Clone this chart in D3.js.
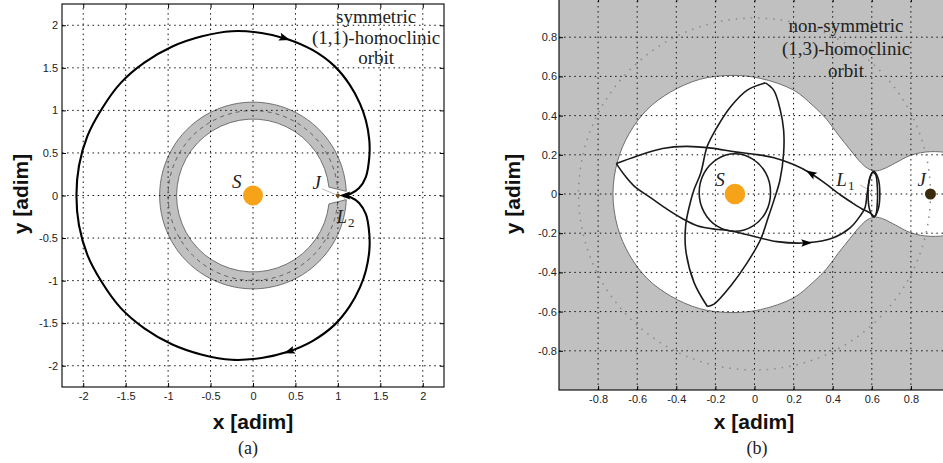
<!DOCTYPE html>
<html lang="en">
<head>
<meta charset="utf-8">
<title>Homoclinic orbits</title>
<script src="https://d3js.org/d3.v7.min.js"></script>
<style>
  body { margin: 0; background: #fff; }
  svg { display: block; font-family: 'Liberation Sans', Arial, sans-serif; }
  .tick text { font-size: 11px; fill: #222; font-family: 'Liberation Sans', Arial, sans-serif; }
  .axis-title { font-size: 21px; font-weight: bold; fill: #111; }
  .serif { font-family: 'Liberation Serif', 'Times New Roman', serif; fill: #222; }
  .grid line { stroke: #111; stroke-width: 1; stroke-dasharray: 1.5,3.6; }
</style>
</head>
<body>
<svg id="fig" width="943" height="463"></svg>
<script>
// ---------- panel (a): symmetric (1,1)-homoclinic orbit ----------
var ticksA = [-2, -1.5, -1, -0.5, 0, 0.5, 1, 1.5, 2];
// inner edge, dashed middle, outer edge of the grey ring
var ringA = [0.9, 1.0, 1.1];
// orbit, from L2 down, round the bottom, the left, the top and back to L2
var orbitA = [
  [1.07, 0], [1.15, -0.02], [1.25, -0.087], [1.33, -0.22], [1.37, -0.45], [1.37, -0.65],
  [1.33, -0.88], [1.26, -1.08], [1.14, -1.3], [0.96, -1.52], [0.7, -1.71], [0.4, -1.84],
  [0.1, -1.91], [-0.25, -1.93], [-0.6, -1.87], [-0.95, -1.75], [-1.28, -1.56], [-1.56, -1.32],
  [-1.78, -1.02], [-1.95, -0.7], [-2.05, -0.35], [-2.08, 0],
  [-2.05, 0.35], [-1.95, 0.7], [-1.78, 1.02], [-1.56, 1.32], [-1.28, 1.56], [-0.95, 1.75],
  [-0.6, 1.87], [-0.25, 1.93], [0.1, 1.91], [0.4, 1.84], [0.7, 1.71], [0.96, 1.52],
  [1.14, 1.3], [1.26, 1.08], [1.33, 0.88], [1.37, 0.65], [1.37, 0.45], [1.33, 0.22],
  [1.25, 0.087], [1.15, 0.02], [1.07, 0]
];
// arrow heads: x, y, direction dx, dy
var arrowsA = [[0.38, 1.845, 1, -0.33], [0.42, -1.835, -1, -0.33], [1.075, 0, -1, 0]];
var sunA = [0, 0];
var jupA = [1, 0];
var titleA = ["symmetric", "(1,1)-homoclinic", "orbit"];

// ---------- panel (b): non-symmetric (1,3)-homoclinic orbit ----------
var ticksB = [-0.8, -0.6, -0.4, -0.2, 0, 0.2, 0.4, 0.6, 0.8];
var jupOrbitB = 0.9;
// boundary of the allowed (white) region
var hillB = [
  [-0.724, 0], [-0.70, 0.17], [-0.64, 0.31], [-0.55, 0.43], [-0.43, 0.52], [-0.28, 0.585],
  [-0.12, 0.605], [0.03, 0.59], [0.2, 0.53], [0.3, 0.45], [0.37, 0.38], [0.43, 0.3],
  [0.49, 0.225], [0.54, 0.165], [0.58, 0.13], [0.62, 0.118], [0.66, 0.128], [0.72, 0.158],
  [0.8, 0.198], [0.9, 0.216], [1.0, 0.205], [1.08, 0.15], [1.12, 0.07], [1.13, 0],
  [1.12, -0.07], [1.08, -0.15], [1.0, -0.205], [0.9, -0.216], [0.8, -0.198], [0.72, -0.158],
  [0.66, -0.128], [0.62, -0.118], [0.58, -0.13], [0.54, -0.165], [0.49, -0.225], [0.43, -0.3],
  [0.37, -0.38], [0.3, -0.45], [0.2, -0.53], [0.03, -0.59], [-0.12, -0.605], [-0.28, -0.585],
  [-0.43, -0.52], [-0.55, -0.43], [-0.64, -0.31], [-0.70, -0.17]
];
// leaving L1, over the Sun, out to the left tip
var outboundB = [
  [0.612, -0.117], [0.596, -0.1], [0.575, -0.088], [0.548, -0.075], [0.5, -0.045],
  [0.44, -0.005], [0.36, 0.055], [0.285, 0.107], [0.2, 0.15], [0.1, 0.185], [0.0, 0.203],
  [-0.1, 0.215], [-0.22, 0.234], [-0.35, 0.243], [-0.47, 0.232], [-0.6, 0.194], [-0.707, 0.155]
];
// from the left tip, under the Sun, back into L1
var inboundB = [
  [-0.707, 0.155], [-0.66, 0.09], [-0.614, 0.039], [-0.53, -0.02], [-0.444, -0.08],
  [-0.37, -0.125], [-0.293, -0.162], [-0.2, -0.18], [-0.139, -0.185], [-0.04, -0.207],
  [0.115, -0.243], [0.268, -0.249], [0.404, -0.223], [0.489, -0.173], [0.539, -0.114],
  [0.565, -0.07], [0.576, 0.0], [0.588, 0.07], [0.603, 0.11], [0.619, 0.1], [0.628, 0.04],
  [0.628, -0.05], [0.62, -0.108], [0.608, -0.118]
];
// long lens from the top tip to the bottom tip
var lensLeftB = [
  [0.056, 0.567], [-0.037, 0.53], [-0.122, 0.445], [-0.19, 0.343], [-0.242, 0.242],
  [-0.275, 0.107], [-0.31, 0.02], [-0.335, -0.07], [-0.352, -0.16], [-0.352, -0.283],
  [-0.309, -0.452], [-0.241, -0.574]
];
var lensRightB = [
  [0.056, 0.567], [0.098, 0.53], [0.132, 0.428], [0.149, 0.326], [0.149, 0.208],
  [0.13, 0.07], [0.1, -0.03], [0.07, -0.12], [0.031, -0.232], [-0.037, -0.35],
  [-0.122, -0.469], [-0.207, -0.562], [-0.241, -0.574]
];
// loop close round the Sun
var ringB = [
  [0.082, 0.007], [0.058, 0.106], [-0.009, 0.178], [-0.1, 0.205], [-0.191, 0.178],
  [-0.258, 0.106], [-0.283, 0.007], [-0.258, -0.092], [-0.191, -0.164], [-0.1, -0.19],
  [-0.009, -0.164], [0.058, -0.092]
];
// Lyapunov orbit round L1
var lyapB = [
  [0.61, 0.116], [0.632, 0.08], [0.641, 0], [0.632, -0.08], [0.61, -0.117],
  [0.589, -0.08], [0.581, 0], [0.589, 0.08]
];
var arrowsB = [[0.285, 0.107, -1, 0.6], [0.27, -0.249, 1, 0.03]];
var sunB = [-0.1, 0];
var jupB = [0.9, 0];
var titleB = ["non-symmetric", "(1,3)-homoclinic", "orbit"];

var ORANGE = "#f6a31a";
var svg = d3.select("#fig");

// scales
var xA = d3.scaleLinear().domain([-2.25, 2.25]).range([62, 444]);
var yA = d3.scaleLinear().domain([-2.25, 2.25]).range([387, 4]);
var xB = d3.scaleLinear().domain([-1, 1]).range([559, 950]);
var yB = d3.scaleLinear().domain([-1, 1]).range([390, -2]);

function lineFor(x, y, curve) {
  return d3.line().x(function(d) { return x(d[0]); }).y(function(d) { return y(d[1]); }).curve(curve);
}

function drawGrid(g, x, y, ticks) {
  var grid = g.append("g").attr("class", "grid");
  grid.selectAll(".gx").data(ticks).enter().append("line")
    .attr("x1", function(d) { return x(d); }).attr("x2", function(d) { return x(d); })
    .attr("y1", y.range()[0]).attr("y2", y.range()[1]);
  grid.selectAll(".gy").data(ticks).enter().append("line")
    .attr("y1", function(d) { return y(d); }).attr("y2", function(d) { return y(d); })
    .attr("x1", x.range()[0]).attr("x2", x.range()[1]);
}

function drawAxes(g, x, y, ticks, pad) {
  var fmt = function(d) { return String(d); };
  var bottom = g.append("g").attr("transform", "translate(0," + y.range()[0] + ")")
    .call(d3.axisBottom(x).tickValues(ticks).tickSize(-4).tickPadding(5).tickFormat(fmt));
  var left = g.append("g").attr("transform", "translate(" + x.range()[0] + ",0)")
    .call(d3.axisLeft(y).tickValues(ticks).tickSize(-4).tickPadding(pad).tickFormat(fmt));
  var top = g.append("g").attr("transform", "translate(0," + y.range()[1] + ")")
    .call(d3.axisTop(x).tickValues(ticks).tickSize(-4).tickFormat(""));
  var right = g.append("g").attr("transform", "translate(" + x.range()[1] + ",0)")
    .call(d3.axisRight(y).tickValues(ticks).tickSize(-4).tickFormat(""));
  [bottom, left, top, right].forEach(function(a) {
    a.attr("font-size", null).attr("font-family", null);
    a.select(".domain").remove();
    a.selectAll(".tick line").attr("stroke", "#000");
  });
  g.append("rect")
    .attr("x", x.range()[0]).attr("y", y.range()[1])
    .attr("width", x.range()[1] - x.range()[0]).attr("height", y.range()[0] - y.range()[1])
    .attr("fill", "none").attr("stroke", "#000").attr("stroke-width", 1.1);
}

function drawArrows(g, x, y, arrows, shape) {
  g.selectAll(null).data(arrows).enter().append("path")
    .attr("d", shape)
    .attr("fill", "#000")
    .attr("transform", function(d) {
      var px = x(d[0]), py = y(d[1]);
      var ang = Math.atan2(y(d[1] + d[3] * 0.01) - py, x(d[0] + d[2] * 0.01) - px) * 180 / Math.PI;
      return "translate(" + px + "," + py + ") rotate(" + ang + ")";
    });
}

function italicLabel(g, px, py, main, sub) {
  var t = g.append("text").attr("class", "serif").attr("x", px).attr("y", py)
    .attr("font-size", 19).attr("font-style", "italic").attr("text-anchor", "middle").text(main);
  if (sub) {
    t.append("tspan").attr("font-size", 13).attr("font-style", "normal").attr("dy", 4).attr("dx", 1).text(sub);
  }
}

// ======================= panel (a) =======================
var gA = svg.append("g");
gA.append("rect").attr("x", 62).attr("y", 4).attr("width", 382).attr("height", 383).attr("fill", "#fff");

// grey ring with a small gap at J
var cx = xA(0), cy = yA(0), k = xA(1) - xA(0);
var gapOut = 0.045, gapIn = 0.11, gapMid = 0.075;
var ringPath = d3.path();
ringPath.moveTo(cx + ringA[2] * k * Math.cos(gapOut), cy + ringA[2] * k * Math.sin(gapOut));
ringPath.arc(cx, cy, ringA[2] * k, gapOut, 2 * Math.PI - gapOut, false);
ringPath.lineTo(cx + ringA[0] * k * Math.cos(-gapIn), cy + ringA[0] * k * Math.sin(-gapIn));
ringPath.arc(cx, cy, ringA[0] * k, 2 * Math.PI - gapIn, gapIn, true);
ringPath.closePath();
gA.append("path").attr("d", ringPath.toString())
  .attr("fill", "#c0c0c0").attr("stroke", "#555").attr("stroke-width", 0.8);

var midPath = d3.path();
midPath.arc(cx, cy, ringA[1] * k, gapMid, 2 * Math.PI - gapMid, false);
gA.append("path").attr("d", midPath.toString())
  .attr("fill", "none").attr("stroke", "#555").attr("stroke-width", 0.9).attr("stroke-dasharray", "4,4");

drawGrid(gA, xA, yA, ticksA);

// leader lines
gA.append("line").attr("x1", xA(0.81)).attr("y1", yA(0.08)).attr("x2", xA(1)).attr("y2", yA(0))
  .attr("stroke", "#aaa").attr("stroke-width", 0.8);
gA.append("line").attr("x1", xA(1.1)).attr("y1", yA(-0.11)).attr("x2", xA(1.065)).attr("y2", yA(0))
  .attr("stroke", "#aaa").attr("stroke-width", 0.8);

gA.append("path").datum(orbitA)
  .attr("d", lineFor(xA, yA, d3.curveCatmullRom.alpha(0.5)))
  .attr("fill", "none").attr("stroke", "#000").attr("stroke-width", 2.1);
drawArrows(gA, xA, yA, arrowsA, "M5,0L-6,-4L-4,0L-6,4Z");

gA.append("circle").attr("cx", xA(sunA[0])).attr("cy", yA(sunA[1])).attr("r", 10).attr("fill", ORANGE);
gA.append("circle").attr("cx", xA(jupA[0])).attr("cy", yA(jupA[1])).attr("r", 2).attr("fill", "#6b4a14");

italicLabel(gA, xA(-0.19), yA(0.16) + 6, "S");
italicLabel(gA, xA(0.75), yA(0.15) + 6, "J");
italicLabel(gA, xA(1.09), yA(-0.25) + 6, "L", "2");

gA.selectAll(".titleA").data(titleA).enter().append("text")
  .attr("class", "serif").attr("font-size", 19).attr("text-anchor", "middle")
  .attr("x", xA(1.45)).attr("y", function(d, i) { return 23 + i * 20.7; })
  .text(function(d) { return d; });

drawAxes(gA, xA, yA, ticksA, 4);

svg.append("text").attr("class", "axis-title").attr("text-anchor", "middle")
  .attr("x", 253).attr("y", 429).text("x [adim]");
svg.append("text").attr("class", "axis-title").attr("text-anchor", "middle")
  .attr("transform", "translate(28,194) rotate(-90)").text("y [adim]");
svg.append("text").attr("class", "serif").attr("font-size", 18).attr("text-anchor", "middle")
  .attr("x", 248).attr("y", 454).text("(a)");

// ======================= panel (b) =======================
svg.append("clipPath").attr("id", "clipB").append("rect")
  .attr("x", 559).attr("y", -2).attr("width", 391).attr("height", 392);
var gB = svg.append("g");
var plotB = gB.append("g").attr("clip-path", "url(#clipB)");
plotB.append("rect").attr("x", 559).attr("y", -2).attr("width", 391).attr("height", 392).attr("fill", "#c0c0c0");

plotB.append("path").datum(hillB)
  .attr("d", lineFor(xB, yB, d3.curveCatmullRomClosed.alpha(0.5)))
  .attr("fill", "#fff").attr("stroke", "#6e6e6e").attr("stroke-width", 1);

drawGrid(plotB, xB, yB, ticksB);

plotB.append("circle").attr("cx", xB(0)).attr("cy", yB(0)).attr("r", xB(jupOrbitB) - xB(0))
  .attr("fill", "none").attr("stroke", "#8a8a8a").attr("stroke-width", 1.5).attr("stroke-dasharray", "1.5,6");

plotB.append("line").attr("x1", xB(0.54)).attr("y1", yB(0.047)).attr("x2", xB(0.6)).attr("y2", yB(0.01))
  .attr("stroke", "#aaa").attr("stroke-width", 0.8);

var openLine = lineFor(xB, yB, d3.curveCatmullRom.alpha(0.5));
var closedLine = lineFor(xB, yB, d3.curveCatmullRomClosed.alpha(0.5));
[outboundB, inboundB, lensLeftB, lensRightB].forEach(function(seg) {
  plotB.append("path").datum(seg).attr("d", openLine)
    .attr("fill", "none").attr("stroke", "#1a1a1a").attr("stroke-width", 1.6);
});
[ringB, lyapB].forEach(function(seg) {
  plotB.append("path").datum(seg).attr("d", closedLine)
    .attr("fill", "none").attr("stroke", "#1a1a1a").attr("stroke-width", 1.6);
});
drawArrows(plotB, xB, yB, arrowsB, "M5,0L-6,-3.8L-4,0L-6,3.8Z");

plotB.append("circle").attr("cx", xB(sunB[0])).attr("cy", yB(sunB[1])).attr("r", 10.3).attr("fill", ORANGE);
plotB.append("circle").attr("cx", xB(jupB[0])).attr("cy", yB(jupB[1])).attr("r", 5.5).attr("fill", "#3b2a0c");

italicLabel(plotB, xB(-0.176), yB(0.071) + 6, "S");
italicLabel(plotB, xB(0.465), yB(0.071) + 6, "L", "1");
italicLabel(plotB, xB(0.855), yB(0.071) + 6, "J");

plotB.selectAll(".titleB").data(titleB).enter().append("text")
  .attr("class", "serif").attr("font-size", 19).attr("text-anchor", "middle")
  .attr("x", xB(0.468)).attr("y", function(d, i) { return 32 + i * 22.5; })
  .text(function(d) { return d; });

drawAxes(gB, xB, yB, ticksB, 2);

svg.append("text").attr("class", "axis-title").attr("text-anchor", "middle")
  .attr("x", 754).attr("y", 429).text("x [adim]");
svg.append("text").attr("class", "axis-title").attr("text-anchor", "middle")
  .attr("transform", "translate(520,194) rotate(-90)").text("y [adim]");
svg.append("text").attr("class", "serif").attr("font-size", 18).attr("text-anchor", "middle")
  .attr("x", 757).attr("y", 454).text("(b)");
</script>
</body>
</html>
